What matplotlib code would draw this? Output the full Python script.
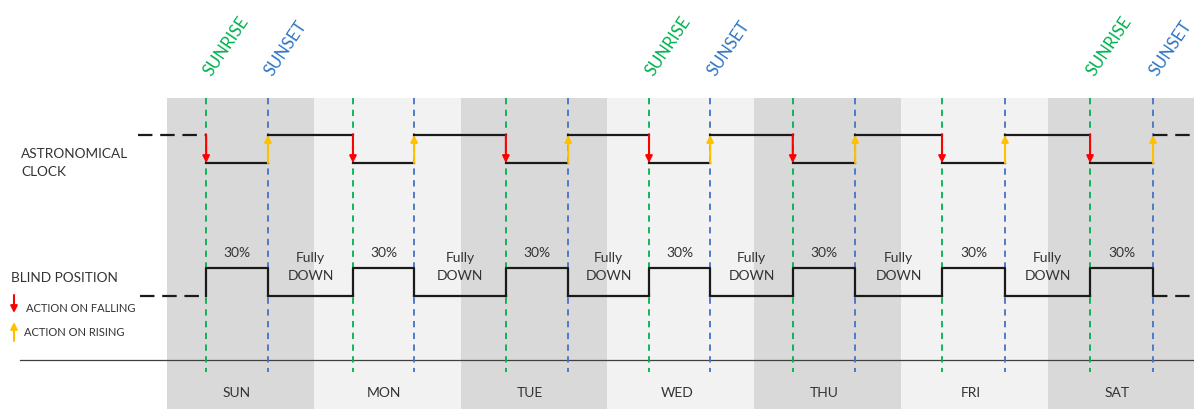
import matplotlib
matplotlib.use("Agg")
import matplotlib.pyplot as plt

plt.rcParams["font.family"] = ["Lato", "DejaVu Sans"]

# --- data (hours from Sunday 00:00 within each day) ---
days = ["SUN", "MON", "TUE", "WED", "THU", "FRI", "SAT"]
sunrise_h = [6.4, 6.4, 7.4, 6.8, 6.3, 6.7, 6.9]
sunset_h = [16.5, 16.4, 17.6, 16.8, 16.5, 17.0, 17.2]
sun_label_days = ["SUN", "WED", "SAT"]
day_text = "30%"
night_text = "Fully\nDOWN"
row_labels = ["ASTRONOMICAL\nCLOCK", "BLIND POSITION"]
legend_labels = ["ACTION ON FALLING", "ACTION ON RISING"]

# --- styles / layout (y in pixel-like units, top = 0) ---
DARK, LIGHT = "#d9d9d9", "#f2f2f2"
GREEN, BLUE = "#00b050", "#4472c4"
RED, ORANGE = "#ff0000", "#ffc000"
LINE = "#1a1a1a"
TXT = "#333333"
BAND_TOP = 98
VL_TOP, VL_BOT = 98, 372
CLK_HI, CLK_LO = 135, 163
BL_HI, BL_LO = 268, 296
HOUR = 24
PX = 6.117  # pixels per hour

rise = [i * HOUR + h for i, h in enumerate(sunrise_h)]
sets = [i * HOUR + h for i, h in enumerate(sunset_h)]

fig = plt.figure(figsize=(11.94, 4.09), dpi=100)
ax = fig.add_axes([0, 0, 1, 1])
x0, x1 = -167 / PX, (1194 - 167) / PX
ax.set_xlim(x0, x1)
ax.set_ylim(409, 0)
ax.axis("off")

# day bands
for i, d in enumerate(days):
    ax.fill_between([i * HOUR, (i + 1) * HOUR], BAND_TOP, 409,
                    color=DARK if i % 2 == 0 else LIGHT, lw=0, zorder=0)
    ax.text(i * HOUR + HOUR / 2 - 0.6, 393, d, ha="center", va="center",
            fontsize=10, color=TXT)

# baseline
ax.plot([x0 + 20 / PX, x1], [360, 360], color="#404040", lw=0.9, zorder=1)

# sunrise / sunset markers
for i, (r, s) in enumerate(zip(rise, sets)):
    ax.plot([r, r], [VL_TOP, VL_BOT], color=GREEN, lw=1.3,
            ls=(0, (3.5, 3)), zorder=1)
    ax.plot([s, s], [VL_TOP, VL_BOT], color=BLUE, lw=1.3,
            ls=(0, (3.5, 3)), zorder=1)
    if days[i] in sun_label_days:
        ax.text(r + 1.2, 79, "SUNRISE", rotation=56, color=GREEN,
                fontsize=12, ha="left", va="bottom", rotation_mode="anchor")
        ax.text(s + 1.2, 79, "SUNSET", rotation=56, color="#2e75c6",
                fontsize=12, ha="left", va="bottom", rotation_mode="anchor")

dash = (0, (6.5, 3.5))

# astronomical clock: high at night, low by day
ax.plot([x0 + 138 / PX, rise[0]], [CLK_HI, CLK_HI], color=LINE, lw=1.6, ls=dash)
ax.plot([sets[-1], x1], [CLK_HI, CLK_HI], color=LINE, lw=1.6, ls=dash)
for i, (r, s) in enumerate(zip(rise, sets)):
    ax.plot([r, s], [CLK_LO, CLK_LO], color=LINE, lw=1.6, zorder=3)
    if i < len(rise) - 1:
        ax.plot([s, rise[i + 1]], [CLK_HI, CLK_HI], color=LINE, lw=1.6, zorder=3)
    ax.annotate("", xy=(r, CLK_LO), xytext=(r, CLK_HI),
                arrowprops=dict(arrowstyle="-|>", color=RED, lw=1.5,
                                mutation_scale=10, shrinkA=0, shrinkB=0), zorder=4)
    ax.annotate("", xy=(s, CLK_HI), xytext=(s, CLK_LO),
                arrowprops=dict(arrowstyle="-|>", color=ORANGE, lw=1.5,
                                mutation_scale=10, shrinkA=0, shrinkB=0), zorder=4)

# blind position: 30% by day, fully down at night
ax.plot([x0 + 140 / PX, rise[0]], [BL_LO, BL_LO], color=LINE, lw=1.6, ls=dash)
ax.plot([sets[-1], x1], [BL_LO, BL_LO], color=LINE, lw=1.6, ls=dash)
for i, (r, s) in enumerate(zip(rise, sets)):
    ax.plot([r, r, s, s], [BL_LO, BL_HI, BL_HI, BL_LO], color=LINE, lw=1.6, zorder=3)
    ax.text((r + s) / 2, 253, day_text, ha="center", va="center",
            fontsize=10, color=TXT)
    if i < len(rise) - 1:
        ax.plot([s, rise[i + 1]], [BL_LO, BL_LO], color=LINE, lw=1.6, zorder=3)
        ax.text((s + rise[i + 1]) / 2, 267, night_text, ha="center",
                va="center", fontsize=10, color=TXT, linespacing=1.55)

# left-side labels
ax.text(x0 + 21 / PX, 163, row_labels[0], ha="left", va="center",
        fontsize=9.8, color=TXT, linespacing=1.55)
ax.text(x0 + 11 / PX, 278, row_labels[1], ha="left", va="center",
        fontsize=9.8, color=TXT)
ax.annotate("", xy=(x0 + 14 / PX, 313), xytext=(x0 + 14 / PX, 295),
            arrowprops=dict(arrowstyle="-|>", color=RED, lw=1.5,
                            mutation_scale=10, shrinkA=0, shrinkB=0))
ax.annotate("", xy=(x0 + 14 / PX, 322), xytext=(x0 + 14 / PX, 341),
            arrowprops=dict(arrowstyle="-|>", color=ORANGE, lw=1.5,
                            mutation_scale=10, shrinkA=0, shrinkB=0))
ax.text(x0 + 26 / PX, 308, legend_labels[0], ha="left", va="center",
        fontsize=8, color=TXT)
ax.text(x0 + 24 / PX, 332, legend_labels[1], ha="left", va="center",
        fontsize=8, color=TXT)

fig.savefig("out.png", dpi=100)
